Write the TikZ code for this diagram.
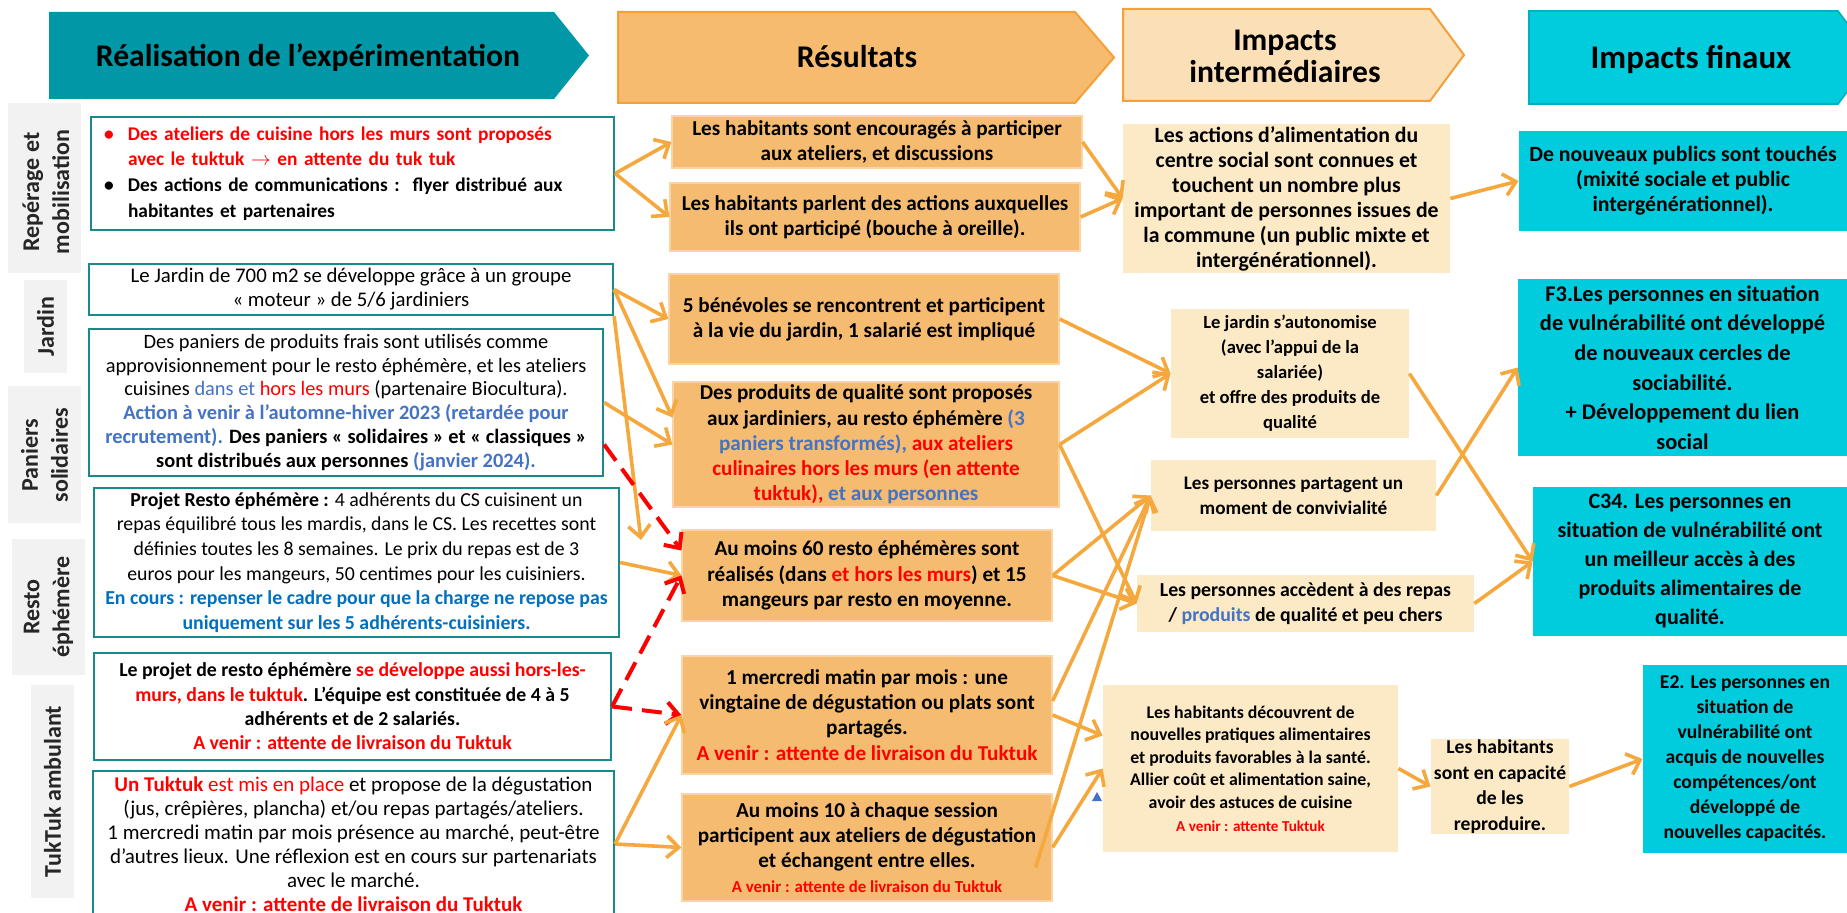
\documentclass[tikz,border=0pt]{standalone}
\usepackage{fontspec}
\setmainfont{Carlito}
\usetikzlibrary{arrows.meta,calc}
\definecolor{hteal}{RGB}{0,152,166}
\definecolor{boxteal}{RGB}{24,138,140}
\definecolor{hdorange}{RGB}{246,187,110}
\definecolor{orline}{RGB}{244,160,58}
\definecolor{resfill}{RGB}{245,187,112}
\definecolor{resline}{RGB}{250,212,165}
\definecolor{hdpeach}{RGB}{251,223,182}
\definecolor{intfill}{RGB}{252,234,198}
\definecolor{cyanfill}{RGB}{0,204,221}
\definecolor{cyanline}{RGB}{0,176,192}
\definecolor{greyfill}{RGB}{242,242,242}
\definecolor{arrorange}{RGB}{244,168,62}
\definecolor{txtblue}{RGB}{68,114,196}
\definecolor{txtazur}{RGB}{0,112,192}
\definecolor{darktext}{RGB}{38,38,38}
\newcommand{\rouge}[1]{\textcolor{red}{#1}}
\newcommand{\bleu}[1]{\textcolor{txtblue}{#1}}
\newcommand{\azur}[1]{\textcolor{txtazur}{#1}}
\begin{document}
\begin{tikzpicture}[x=0.5pt, y=-0.5pt,
    lbox/.style={draw=boxteal, line width=1.1pt, fill=white, inner sep=0pt, align=center, font=\fontsize{10.4}{12}\selectfont},
    rbox/.style={draw=resline, line width=0.6pt, fill=resfill, inner sep=0pt, align=center, font=\bfseries\fontsize{10.6}{12.6}\selectfont},
    ibox/.style={fill=intfill, inner sep=0pt, align=center, font=\bfseries\fontsize{9.6}{12.5}\selectfont},
    fbox/.style={fill=cyanfill, inner sep=0pt, align=center, font=\bfseries\fontsize{11.2}{14.8}\selectfont},
    sidetext/.style={rotate=90, align=center, text=darktext, font=\bfseries\fontsize{12}{15}\selectfont},
    hdtext/.style={align=center, font=\bfseries\fontsize{15.8}{16}\selectfont},
    flow/.style={draw=arrorange, line width=1.8pt, -{Straight Barb[length=6pt,width=11pt]}},
    wait/.style={draw=red, line width=2pt, dash pattern=on 10pt off 5pt, -{Straight Barb[length=6pt,width=11pt]}}]
\useasboundingbox (0,0) rectangle (1847,913);
\clip (0,0) rectangle (1847,913);

% headers
\fill[hteal] (49,12) -- (554,12) -- (589,55.5) -- (554,99) -- (49,99) -- cycle;
\node[hdtext] (h1) at (308,57) {Réalisation de l’expérimentation};
\draw[fill=hdorange, draw=orline, line width=1pt] (618,12) -- (1075,12) -- (1114,57.5) -- (1075,103) -- (618,103) -- cycle;
\node[hdtext] (h2) at (857,57) {Résultats};
\draw[fill=hdpeach, draw=orline, line width=1pt] (1123,9) -- (1430,9) -- (1464,55) -- (1430,101) -- (1123,101) -- cycle;
\node[hdtext] (h3) at (1285,56) {Impacts\\intermédiaires};
\draw[fill=cyanfill, draw=cyanline, line width=0.8pt] (1529,11) -- (1838,11) -- (1873,57.5) -- (1838,104) -- (1529,104) -- cycle;
\node[hdtext, font=\bfseries\fontsize{16.5}{17}\selectfont] (h4) at (1691,60) {Impacts finaux};

% side labels
\fill[greyfill] (8,103) rectangle (81,273);
\node[sidetext] (s1) at (46,192) {Repérage et\\mobilisation};
\fill[greyfill] (24,280) rectangle (67,373);
\node[sidetext] (s2) at (45.5,326.5) {Jardin};
\fill[greyfill] (8,386) rectangle (81,523);
\node[sidetext] (s3) at (44.5,455) {Paniers\\solidaires};
\fill[greyfill] (12,539) rectangle (85,675);
\node[sidetext] (s4) at (48.5,607) {Resto\\éphémère};
\fill[greyfill] (31,685) rectangle (74,898);
\node[sidetext] (s5) at (52.5,791.5) {TukTuk ambulant};

% realisation
\node[lbox, minimum width=261.5pt, minimum height=56.5pt, text width=248.5pt, align=left, font=\bfseries\fontsize{9.7}{12.8}\selectfont] (b1) at (352.5,173.5) {%
\rouge{\makebox[12pt][l]{\textbullet}Des ateliers de cuisine hors les murs sont proposés}\\
\rouge{\hspace*{12pt}avec le tuktuk $\rightarrow$ en attente du tuk tuk}\\
\makebox[12pt][l]{\textbullet}Des actions de communications :\ \ flyer distribué aux\\
\hspace*{12pt}habitantes et partenaires};
\node[lbox, minimum width=262pt, minimum height=25.5pt] (b2) at (351,289.5) {Le Jardin de 700 m2 se développe grâce à un groupe\\
« moteur » de 5/6 jardiniers};
\node[lbox, minimum width=257pt, minimum height=73.5pt, font=\fontsize{10.2}{11.9}\selectfont] (b3) at (346,402.5) {Des paniers de produits frais sont utilisés comme\\
approvisionnement pour le resto éphémère, et les ateliers\\
cuisines \bleu{dans et} \rouge{hors les murs} (partenaire Biocultura).\\
\textbf{\bleu{Action à venir à l’automne-hiver 2023 (retardée pour}}\\
\textbf{\bleu{recrutement).} Des paniers « solidaires » et « classiques »}\\
\textbf{sont distribués aux personnes \bleu{(janvier 2024).}}};
\node[lbox, minimum width=262.5pt, minimum height=74.5pt, font=\fontsize{9.9}{12.3}\selectfont] (b4) at (356.5,562.5) {\textbf{Projet Resto éphémère :} 4 adhérents du CS cuisinent un\\
repas équilibré tous les mardis, dans le CS. Les recettes sont\\
définies toutes les 8 semaines. Le prix du repas est de 3\\
euros pour les mangeurs, 50 centimes pour les cuisiniers.\\
\textbf{\azur{En cours : repenser le cadre pour que la charge ne repose pas}}\\
\textbf{\azur{uniquement sur les 5 adhérents-cuisiniers.}}};
\node[lbox, minimum width=258.5pt, minimum height=53.5pt, font=\bfseries\fontsize{9.9}{12.2}\selectfont] (b5) at (352.5,706.5) {Le projet de resto éphémère \rouge{se développe aussi hors-les-}\\
\rouge{murs, dans le tuktuk}. L’équipe est constituée de 4 à 5\\
adhérents et de 2 salariés.\\
\rouge{A venir : attente de livraison du Tuktuk}};
\node[lbox, minimum width=260.5pt, minimum height=73pt, font=\fontsize{10.5}{12}\selectfont] (b6) at (353.5,844) {\rouge{\textbf{Un Tuktuk} est mis en place} et propose de la dégustation\\
(jus, crêpières, plancha) et/ou repas partagés/ateliers.\\
1 mercredi matin par mois présence au marché, peut-être\\
d’autres lieux. Une réflexion est en cours sur partenariats\\
avec le marché.\\
\textbf{\rouge{A venir : attente de livraison du Tuktuk}}};

% resultats
\node[rbox, minimum width=205pt, minimum height=26pt] (r1) at (877,142) {Les habitants sont encouragés à participer\\aux ateliers, et discussions};
\node[rbox, minimum width=205pt, minimum height=34pt] (r2) at (875,217) {Les habitants parlent des actions auxquelles\\ils ont participé (bouche à oreille).};
\node[rbox, minimum width=195pt, minimum height=45pt] (r3) at (864,319) {5 bénévoles se rencontrent et participent\\à la vie du jardin, 1 salarié est impliqué};
\node[rbox, minimum width=193pt, minimum height=62.5pt] (r4) at (866,444.5) {Des produits de qualité sont proposés\\
aux jardiniers, au resto éphémère \bleu{(3}\\
\bleu{paniers transformés),} \rouge{aux ateliers}\\
\rouge{culinaires hors les murs (en attente}\\
\rouge{tuktuk),} \bleu{et aux personnes}};
\node[rbox, minimum width=185pt, minimum height=45.5pt] (r5) at (867,575.5) {Au moins 60 resto éphémères sont\\
réalisés (dans \rouge{et hors les murs}) et 15\\
mangeurs par resto en moyenne.};
\node[rbox, minimum width=185pt, minimum height=59pt] (r6) at (867,715) {1 mercredi matin par mois : une\\
vingtaine de dégustation ou plats sont\\
partagés.\\
\rouge{A venir : attente de livraison du Tuktuk}};
\node[rbox, minimum width=185pt, minimum height=53.5pt] (r7) at (867,847.5) {Au moins 10 à chaque session\\
participent aux ateliers de dégustation\\
et échangent entre elles.\\
{\fontsize{8.4}{10}\selectfont\rouge{A venir : attente de livraison du Tuktuk}}};

% impacts intermediaires
\node[ibox, minimum width=163.5pt, minimum height=74.5pt, font=\bfseries\fontsize{10.9}{12.5}\selectfont] (i1) at (1286.5,198.5) {Les actions d’alimentation du\\
centre social sont connues et\\
touchent un nombre plus\\
important de personnes issues de\\
la commune (un public mixte et\\
intergénérationnel).};
\node[ibox, minimum width=119pt, minimum height=64.5pt, font=\bfseries\fontsize{9.3}{12.5}\selectfont] (i2) at (1290,373.5) {Le jardin s’autonomise\\
(avec l’appui de la\\
salariée)\\
et offre des produits de\\
qualité};
\node[ibox, minimum width=142.5pt, minimum height=35.5pt] (i3) at (1293.5,495.5) {Les personnes partagent un\\moment de convivialité};
\node[ibox, minimum width=168.5pt, minimum height=28.5pt, font=\bfseries\fontsize{9.9}{12.5}\selectfont] (i4) at (1305.5,603.5) {Les personnes accèdent à des repas\\/ \bleu{produits} de qualité et peu chers};
\node[ibox, minimum width=147.5pt, minimum height=83.5pt, font=\bfseries\fontsize{8.9}{11.3}\selectfont] (i5) at (1250.5,768.5) {Les habitants découvrent de\\
nouvelles pratiques alimentaires\\
et produits favorables à la santé.\\
Allier coût et alimentation saine,\\
avoir des astuces de cuisine\\
{\fontsize{7.6}{10}\selectfont\rouge{A venir : attente Tuktuk}}};
\node[ibox, minimum width=69pt, minimum height=47.5pt, font=\bfseries\fontsize{9.8}{12.8}\selectfont] (i6) at (1500,786.5) {Les habitants\\sont en capacité\\de les\\reproduire.};
\fill[txtblue] (1092,801) -- (1102,801) -- (1097,792) -- cycle;

% impacts finaux
\node[fbox, minimum width=164pt, minimum height=50pt, font=\bfseries\fontsize{10.9}{12.5}\selectfont] (f1) at (1683,181) {De nouveaux publics sont touchés\\
(mixité sociale et public\\
intergénérationnel).};
\node[fbox, minimum width=164.5pt, minimum height=88.5pt] (f2) at (1682.5,367.5) {F3.Les personnes en situation\\
de vulnérabilité ont développé\\
de nouveaux cercles de\\
sociabilité.\\
+ Développement du lien\\
social};
\node[fbox, minimum width=157pt, minimum height=74.5pt, font=\bfseries\fontsize{11}{14.5}\selectfont] (f3) at (1690,561.5) {C34. Les personnes en\\
situation de vulnérabilité ont\\
un meilleur accès à des\\
produits alimentaires de\\
qualité.};
\node[fbox, minimum width=102pt, minimum height=94pt, font=\bfseries\fontsize{9.8}{12.5}\selectfont] (f4) at (1745,759) {E2. Les personnes en\\
situation de\\
vulnérabilité ont\\
acquis de nouvelles\\
compétences/ont\\
développé de\\
nouvelles capacités.};

% arrows
\coordinate (jd) at (641,540);
\coordinate (r7s) at ($(r7.east)+(-17,20)$);
\draw[flow] (b1.east) -- (r1.west);
\draw[flow] (b1.east) -- (r2.west);
\draw[flow] (b2.east) -- (r3.west);
\draw[flow] (b2.east) -- ($(r4.west)+(0,-27)$);
\draw[flow] (b2.south east) -- (jd);
\draw[flow] (b3.east) -- (r4.west);
\draw[wait] ($(b3.east)+(0,42)$) -- ($(r5.west)+(0,-25)$);
\draw[flow] (b4.east) -- (r5.west);
\draw[wait] (b5.east) -- (r5.west);
\draw[wait] (b5.east) -- (r6.west);
\draw[flow] (b6.east) -- (r6.west);
\draw[flow] (b6.east) -- (r7.west);
\draw[flow] (r1.east) -- (i1.west);
\draw[flow] (r2.east) -- (i1.west);
\draw[flow] (r3.east) -- (i2.west);
\draw[flow] (r4.east) -- (i2.west);
\draw[flow] (r4.east) -- (i4.west);
\draw[flow] (r5.east) -- (i3.west);
\draw[flow] (r5.east) -- (i4.west);
\draw[flow] ($(r6.east)+(0,-14)$) -- (i3.west);
\draw[flow] (r6.east) -- ($(i5.west)+(0,-33)$);
\draw[flow] (r7s) -- (i3.west);
\draw[flow] (r7.east) -- (i5.west);
\draw[flow] (i1.east) -- (f1.west);
\draw[flow] (i2.east) -- (f3.west);
\draw[flow] (i3.east) -- (f2.west);
\draw[flow] (i4.east) -- (f3.west);
\draw[flow] (i5.east) -- (i6.west);
\draw[flow] (i6.east) -- (f4.west);
\end{tikzpicture}
\end{document}
